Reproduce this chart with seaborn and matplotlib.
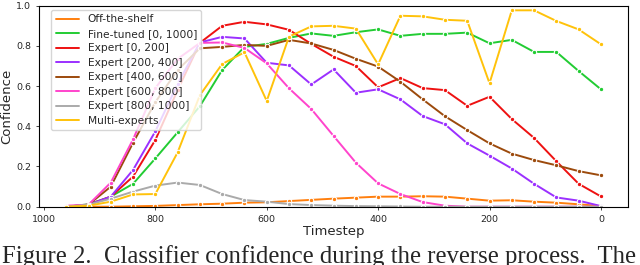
import matplotlib
matplotlib.use("Agg")
import matplotlib.pyplot as plt
from matplotlib.lines import Line2D
import pandas as pd
import seaborn as sns

timesteps = [960, 920, 880, 840, 800, 760, 720, 680, 640, 600, 560, 520, 480,
             440, 400, 360, 320, 280, 240, 200, 160, 120, 80, 40, 0]

off_shelf = [0, 0, 0, 0.002, 0.004, 0.008, 0.012, 0.015, 0.02, 0.022, 0.028, 0.034, 0.04,
             0.045, 0.05, 0.05, 0.052, 0.05, 0.04, 0.03, 0.032, 0.025, 0.02, 0.012, 0.003]
fine_tuned = [0, 0.012, 0.05, 0.114, 0.24, 0.37, 0.5, 0.68, 0.795, 0.81, 0.84, 0.862, 0.85,
              0.868, 0.882, 0.85, 0.86, 0.86, 0.866, 0.813, 0.83, 0.77, 0.77, 0.675, 0.584]
expert_0_200 = [0, 0.01, 0.05, 0.15, 0.332, 0.58, 0.815, 0.9, 0.92, 0.907, 0.88, 0.81, 0.746,
                0.70, 0.594, 0.64, 0.59, 0.58, 0.502, 0.547, 0.436, 0.342, 0.226, 0.114, 0.051]
expert_200_400 = [0, 0.01, 0.05, 0.183, 0.375, 0.61, 0.817, 0.845, 0.837, 0.716, 0.703, 0.608, 0.683,
                  0.567, 0.584, 0.534, 0.451, 0.41, 0.315, 0.254, 0.19, 0.114, 0.046, 0.03, 0.003]
expert_400_600 = [0, 0.01, 0.1, 0.318, 0.52, 0.68, 0.788, 0.795, 0.805, 0.8, 0.83, 0.812, 0.78,
                  0.736, 0.697, 0.622, 0.534, 0.45, 0.381, 0.315, 0.264, 0.232, 0.206, 0.177, 0.156]
expert_600_800 = [0.005, 0.01, 0.12, 0.335, 0.59, 0.735, 0.815, 0.817, 0.79, 0.713, 0.589, 0.486, 0.352,
                  0.219, 0.116, 0.063, 0.023, 0.005, 0, 0, 0, 0, 0, 0, 0]
expert_800_1000 = [0, 0.01, 0.04, 0.075, 0.105, 0.12, 0.108, 0.063, 0.033, 0.025, 0.013, 0.008, 0.005,
                   0.003, 0.002, 0.001, 0, 0, 0, 0, 0, 0, 0, 0, 0]
multi_experts = [0, 0.005, 0.025, 0.061, 0.063, 0.27, 0.555, 0.71, 0.768, 0.526, 0.846, 0.897, 0.9,
                 0.886, 0.708, 0.95, 0.947, 0.93, 0.925, 0.614, 0.977, 0.977, 0.924, 0.882, 0.808]

names = ["Off-the-shelf", "Fine-tuned [0, 1000]", "Expert [0, 200]", "Expert [200, 400]",
         "Expert [400, 600]", "Expert [600, 800]", "Expert [800, 1000]", "Multi-experts"]
series = [off_shelf, fine_tuned, expert_0_200, expert_200_400,
          expert_400_600, expert_600_800, expert_800_1000, multi_experts]
colors = ["#ff7f0e", "#22cc33", "#ee1111", "#9b30ff",
          "#9c4a0c", "#ff44cc", "#aaaaaa", "#ffc20a"]

rows = []
for name, vals in zip(names, series):
    for t, v in zip(timesteps, vals):
        rows.append({"Timestep": t, "Confidence": v, "model": name})
df = pd.DataFrame(rows)

sns.set_style("ticks")
fig = plt.figure(figsize=(6.4, 2.65), dpi=100)
ax = fig.add_axes([0.0617, 0.22, 0.919, 0.7585])

sns.lineplot(data=df, x="Timestep", y="Confidence", hue="model", hue_order=names,
             palette=dict(zip(names, colors)), marker="o", markersize=3.2,
             linewidth=1.4, legend=False, ax=ax)

ax.invert_xaxis()
ax.set_ylim(0, 1.0)
ax.set_xticks([1000, 800, 600, 400, 200, 0])
ax.tick_params(labelsize=6.8, length=2.5, width=0.6)
ax.set_xlabel("Timestep", fontsize=9.5, labelpad=1)
ax.set_ylabel("Confidence", fontsize=9.5, labelpad=2)
for s in ax.spines.values():
    s.set_linewidth(0.8)
    s.set_color("black")

handles = [Line2D([0], [0], color=c, lw=1.4) for c in colors]
ax.legend(handles, names, loc="upper left", bbox_to_anchor=(0.02, 0.978), borderaxespad=0,
          fontsize=7.7, frameon=True, framealpha=0.8, handlelength=2.2, labelspacing=0.42)

fig.text(0.003, 0.006, "Figure 2.  Classifier confidence during the reverse process.  The",
         family="Liberation Serif", fontsize=17.8, va="baseline", ha="left")

fig.savefig("out.png", dpi=100)
